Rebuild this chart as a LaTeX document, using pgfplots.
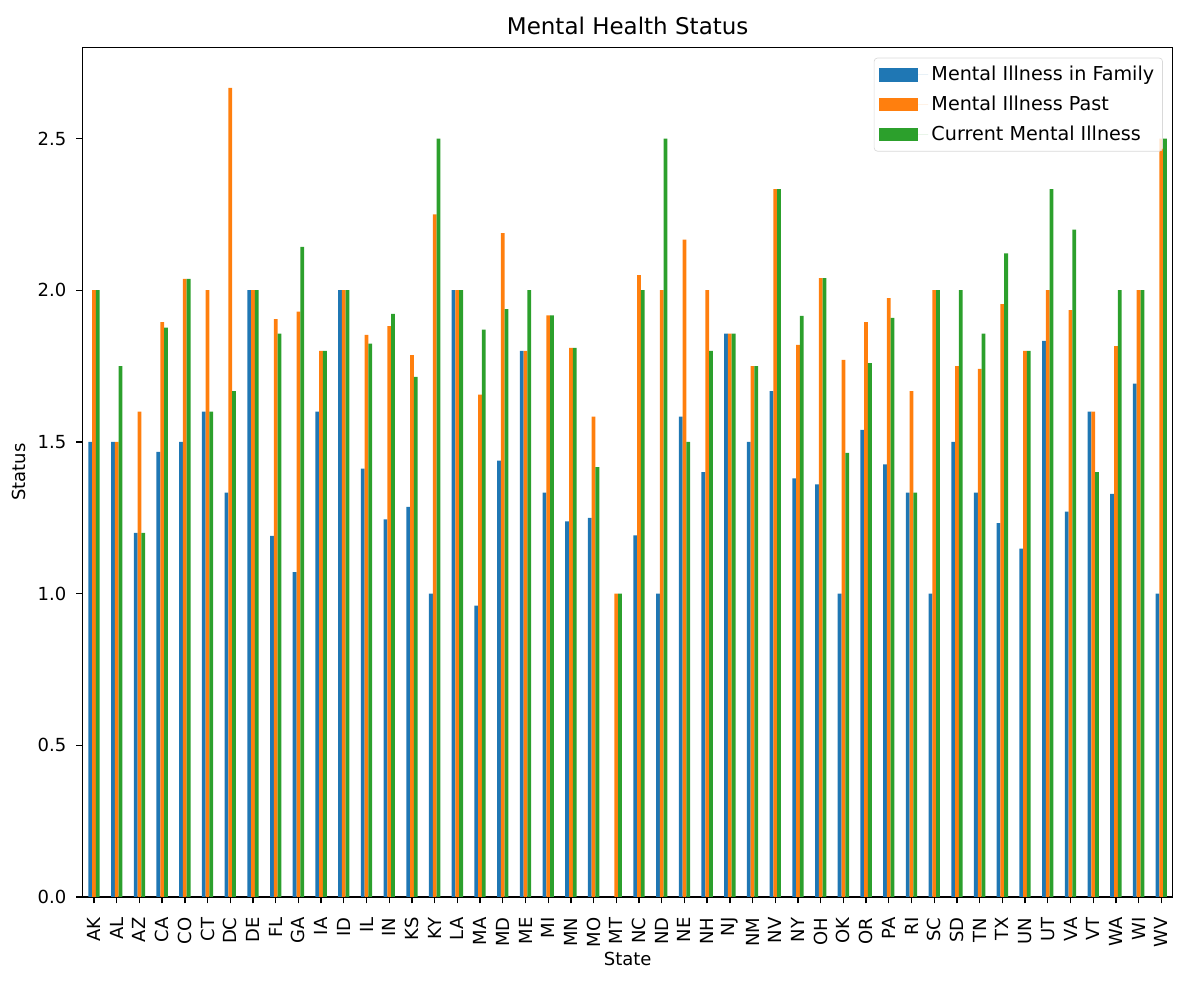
\documentclass[border=0pt]{standalone}
\usepackage{pgfplots}
\usepackage{pgfplotstable}
\pgfplotsset{compat=1.18}
\usepackage{fontspec}
\setmainfont{DejaVu Sans}

\definecolor{c1}{HTML}{1F77B4}
\definecolor{c2}{HTML}{FF7F0E}
\definecolor{c3}{HTML}{2CA02C}

% idx, family, past, current
\pgfplotstableread{
x fam past cur
0 1.5 2.0 2.0
1 1.5 1.5 1.75
2 1.2 1.6 1.2
3 1.467 1.895 1.877
4 1.5 2.037 2.037
5 1.6 2.0 1.6
6 1.333 2.667 1.667
7 2.0 2.0 2.0
8 1.19 1.905 1.857
9 1.071 1.929 2.143
10 1.6 1.8 1.8
11 2.0 2.0 2.0
12 1.412 1.853 1.824
13 1.245 1.882 1.922
14 1.286 1.786 1.714
15 1.0 2.25 2.5
16 2.0 2.0 2.0
17 0.96 1.656 1.87
18 1.438 2.188 1.938
19 1.8 1.8 2.0
20 1.333 1.917 1.917
21 1.238 1.81 1.81
22 1.25 1.583 1.417
23 0 1.0 1.0
24 1.192 2.05 2.0
25 1.0 2.0 2.5
26 1.583 2.167 1.5
27 1.4 2.0 1.8
28 1.857 1.857 1.857
29 1.5 1.75 1.75
30 1.667 2.333 2.333
31 1.38 1.82 1.915
32 1.36 2.04 2.04
33 1.0 1.77 1.464
34 1.54 1.895 1.76
35 1.426 1.974 1.909
36 1.333 1.667 1.333
37 1.0 2.0 2.0
38 1.5 1.75 2.0
39 1.333 1.741 1.857
40 1.232 1.954 2.121
41 1.148 1.8 1.8
42 1.833 2.0 2.333
43 1.27 1.934 2.2
44 1.6 1.6 1.4
45 1.329 1.816 2.0
46 1.692 2.0 2.0
47 1.0 2.5 2.5
}\mhdata

\begin{document}
\begin{tikzpicture}
\path[use as bounding box] (-49.6pt,-55.2pt) rectangle (670.4pt,538.2pt);
\begin{axis}[
    scale only axis,
    width=654pt, height=509.7pt,
    xmin=-0.5, xmax=47.5,
    ymin=0, ymax=2.8,
    xtick={0,...,47},
    xticklabels={AK,AL,AZ,CA,CO,CT,DC,DE,FL,GA,IA,ID,IL,IN,KS,KY,LA,MA,MD,ME,MI,MN,MO,MT,NC,ND,NE,NH,NJ,NM,NV,NY,OH,OK,OR,PA,RI,SC,SD,TN,TX,UN,UT,VA,VT,WA,WI,WV},
    ytick={0,0.5,1,1.5,2,2.5},
    yticklabel style={/pgf/number format/.cd, fixed, fixed zerofill, precision=1},
    /pgf/number format/assume math mode=true,
    xticklabel style={rotate=90, anchor=east},
    xticklabel shift=5pt,
    yticklabel shift=2.5pt,
    ticklabel style={font=\fontsize{10.8}{13}\selectfont},
    label style={font=\fontsize{10.8}{13}\selectfont},
    xlabel style={yshift=4pt},
    title style={font=\fontsize{13.8}{16}\selectfont, yshift=-2pt},
    tick align=outside, tick pos=left,
    major tick length=3.8pt,
    tick style={black, line width=0.8pt},
    axis line style={line width=0.8pt},
    title={Mental Health Status},
    xlabel={State}, ylabel={Status},
    legend cell align=left,
    legend style={at={(0.991,0.988)}, anchor=north east,
        draw=black!15, rounded corners=2pt,
        fill=white, fill opacity=0.8, text opacity=1,
        font=\fontsize{11.5}{13.5}\selectfont,
        row sep=3.6pt, inner xsep=3pt, inner ysep=3pt},
]
\addplot[ybar, bar width=0.1667, bar shift=-0.1667, fill=c1, draw=none,
    legend image code/.code={\path (0pt,0pt) -- (29.4pt,0pt);
        \fill[c1, sharp corners, fill opacity=1] (0pt,-4pt) rectangle (23.4pt,4pt);}]
    table[x=x, y=fam] {\mhdata};
\addlegendentry{Mental Illness in Family}
\addplot[ybar, bar width=0.1667, bar shift=0, fill=c2, draw=none,
    legend image code/.code={\path (0pt,0pt) -- (29.4pt,0pt);
        \fill[c2, sharp corners, fill opacity=1] (0pt,-4pt) rectangle (23.4pt,4pt);}]
    table[x=x, y=past] {\mhdata};
\addlegendentry{Mental Illness Past}
\addplot[ybar, bar width=0.1667, bar shift=0.1667, fill=c3, draw=none,
    legend image code/.code={\path (0pt,0pt) -- (29.4pt,0pt);
        \fill[c3, sharp corners, fill opacity=1] (0pt,-4pt) rectangle (23.4pt,4pt);}]
    table[x=x, y=cur] {\mhdata};
\addlegendentry{Current Mental Illness}
\end{axis}
\end{tikzpicture}
\end{document}
